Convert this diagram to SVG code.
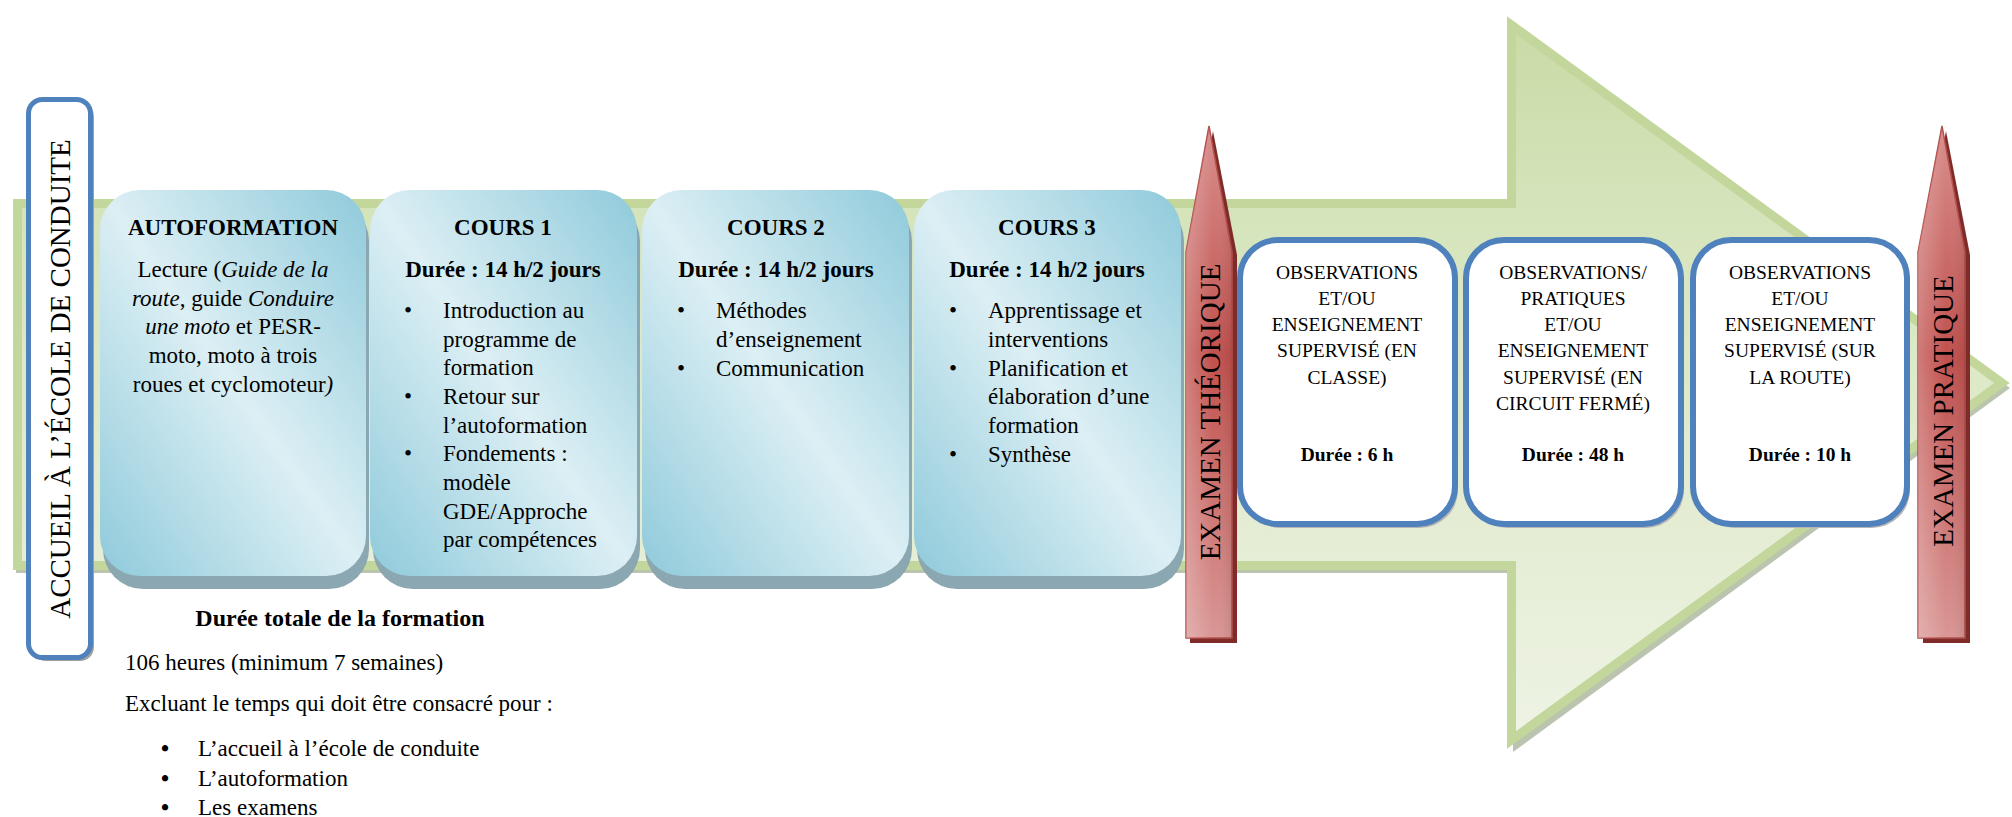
<svg xmlns="http://www.w3.org/2000/svg" width="2012" height="817" viewBox="0 0 2012 817">
<defs>
<linearGradient id="gGreen" x1="0" y1="0" x2="0" y2="1">
<stop offset="0" stop-color="#C9DBA6"/>
<stop offset="0.3" stop-color="#D7E5BE"/>
<stop offset="1" stop-color="#EEF3E4"/>
</linearGradient>
<linearGradient id="gBlue" x1="1" y1="0" x2="0" y2="1">
<stop offset="0" stop-color="#8FCADB"/>
<stop offset="0.5" stop-color="#DCEFF4"/>
<stop offset="1" stop-color="#8FCADB"/>
</linearGradient>
<linearGradient id="gRed" x1="0" y1="0" x2="0" y2="1">
<stop offset="0" stop-color="#D88E8C"/>
<stop offset="0.45" stop-color="#C0504D"/>
<stop offset="1" stop-color="#D99694"/>
</linearGradient>
<linearGradient id="gRedH" x1="0" y1="0" x2="1" y2="0">
<stop offset="0" stop-color="#FFFFFF" stop-opacity="0.25"/>
<stop offset="0.6" stop-color="#FFFFFF" stop-opacity="0"/>
<stop offset="1" stop-color="#000000" stop-opacity="0.08"/>
</linearGradient>
</defs>
<style>
text{font-family:"Liberation Serif","Times New Roman",serif;fill:#000}
.t{font-size:23px}
.b{font-weight:bold}
.c{text-anchor:middle}
.o{font-size:19.5px;text-anchor:middle}
.v{font-size:29px;text-anchor:middle}
.blue{fill:url(#gBlue)}
.bsh{fill:#8BA7B1}
.wbox{fill:#FFFFFF;stroke:#4F81BD;stroke-width:6}
.wsh{fill:#B5B5B5}
.red{fill:url(#gRed);stroke:#B4504D;stroke-width:1.5}
.rsh{fill:#7E2B29}
.bul{font-size:23px;font-weight:bold}
</style>

<g id="big-arrow">
<path d="M16,206 H1513 V26 L2010,388 L1513,752 V573 H16 Z" fill="#AAB59A" opacity="0.8"/>
<path d="M17.5,203.5 H1511.5 V25 L2002,383 L1511.5,740 V565.5 H17.5 Z" fill="url(#gGreen)" stroke="#C3D69B" stroke-width="9" stroke-linejoin="miter"/>
</g>

<g id="accueil">
<rect x="32" y="103" width="62" height="558" rx="14" fill="#A0A0A0"/>
<rect x="28.5" y="99.5" width="62" height="558" rx="14" fill="#FFFFFF" stroke="#4F81BD" stroke-width="5"/>
<text class="v" transform="translate(70,379) rotate(-90)">ACCUEIL À L’ÉCOLE DE CONDUITE</text>
</g>

<g id="autoformation">
<rect class="bsh" x="103" y="201" width="266" height="388" rx="40"/>
<rect class="blue" x="100" y="190" width="266" height="386" rx="40"/>
<text class="t b c" x="233" y="235">AUTOFORMATION</text>
<text class="t c" x="233" y="277">Lecture (<tspan font-style="italic">Guide de la</tspan></text>
<text class="t c" x="233" y="306"><tspan font-style="italic">route</tspan>, guide <tspan font-style="italic">Conduire</tspan></text>
<text class="t c" x="233" y="334"><tspan font-style="italic">une moto</tspan> et PESR-</text>
<text class="t c" x="233" y="363">moto, moto à trois</text>
<text class="t c" x="233" y="392">roues et cyclomoteur<tspan font-style="italic">)</tspan></text>
</g>

<g id="cours1">
<rect class="bsh" x="373" y="201" width="267" height="388" rx="40"/>
<rect class="blue" x="370" y="190" width="267" height="386" rx="40"/>
<text class="t b c" x="503" y="235">COURS 1</text>
<text class="t b c" x="503" y="277">Durée : 14 h/2 jours</text>
<text class="t" x="404" y="318">•</text><text class="t" x="443" y="318">Introduction au</text>
<text class="t" x="443" y="347">programme de</text>
<text class="t" x="443" y="375">formation</text>
<text class="t" x="404" y="404">•</text><text class="t" x="443" y="404">Retour sur</text>
<text class="t" x="443" y="433">l’autoformation</text>
<text class="t" x="404" y="461">•</text><text class="t" x="443" y="461">Fondements :</text>
<text class="t" x="443" y="490">modèle</text>
<text class="t" x="443" y="519">GDE/Approche</text>
<text class="t" x="443" y="547">par compétences</text>
</g>

<g id="cours2">
<rect class="bsh" x="645" y="201" width="267" height="388" rx="40"/>
<rect class="blue" x="642" y="190" width="267" height="386" rx="40"/>
<text class="t b c" x="776" y="235">COURS 2</text>
<text class="t b c" x="776" y="277">Durée : 14 h/2 jours</text>
<text class="t" x="677" y="318">•</text><text class="t" x="716" y="318">Méthodes</text>
<text class="t" x="716" y="347">d’enseignement</text>
<text class="t" x="677" y="376">•</text><text class="t" x="716" y="376">Communication</text>
</g>

<g id="cours3">
<rect class="bsh" x="917" y="201" width="267" height="388" rx="40"/>
<rect class="blue" x="914" y="190" width="267" height="386" rx="40"/>
<text class="t b c" x="1047" y="235">COURS 3</text>
<text class="t b c" x="1047" y="277">Durée : 14 h/2 jours</text>
<text class="t" x="949" y="318">•</text><text class="t" x="988" y="318">Apprentissage et</text>
<text class="t" x="988" y="347">interventions</text>
<text class="t" x="949" y="376">•</text><text class="t" x="988" y="376">Planification et</text>
<text class="t" x="988" y="404">élaboration d’une</text>
<text class="t" x="988" y="433">formation</text>
<text class="t" x="949" y="462">•</text><text class="t" x="988" y="462">Synthèse</text>
</g>

<g id="examen-theorique">
<path class="rsh" d="M1213,131 L1237,255 V643 H1190 V255 Z"/>
<path class="red" d="M1209,126 L1232,252 V638 H1186 V252 Z"/>
<path d="M1209,126 L1232,252 V638 H1186 V252 Z" fill="url(#gRedH)"/>
<text class="v" transform="translate(1220,412) rotate(-90)">EXAMEN THÉORIQUE</text>
</g>

<g id="obs-classe">
<rect class="wsh" x="1243" y="244" width="215" height="284" rx="38"/>
<rect class="wbox" x="1240" y="240" width="215" height="284" rx="38"/>
<text class="o" x="1347" y="279">OBSERVATIONS</text>
<text class="o" x="1347" y="305">ET/OU</text>
<text class="o" x="1347" y="331">ENSEIGNEMENT</text>
<text class="o" x="1347" y="357">SUPERVISÉ (EN</text>
<text class="o" x="1347" y="384">CLASSE)</text>
<text class="o b" x="1347" y="461">Durée : 6 h</text>
</g>

<g id="obs-circuit">
<rect class="wsh" x="1469" y="244" width="215" height="284" rx="38"/>
<rect class="wbox" x="1466" y="240" width="215" height="284" rx="38"/>
<text class="o" x="1573" y="279">OBSERVATIONS/</text>
<text class="o" x="1573" y="305">PRATIQUES</text>
<text class="o" x="1573" y="331">ET/OU</text>
<text class="o" x="1573" y="357">ENSEIGNEMENT</text>
<text class="o" x="1573" y="384">SUPERVISÉ (EN</text>
<text class="o" x="1573" y="410">CIRCUIT FERMÉ)</text>
<text class="o b" x="1573" y="461">Durée : 48 h</text>
</g>

<g id="obs-route">
<rect class="wsh" x="1696" y="244" width="214" height="284" rx="38"/>
<rect class="wbox" x="1693" y="240" width="214" height="284" rx="38"/>
<text class="o" x="1800" y="279">OBSERVATIONS</text>
<text class="o" x="1800" y="305">ET/OU</text>
<text class="o" x="1800" y="331">ENSEIGNEMENT</text>
<text class="o" x="1800" y="357">SUPERVISÉ (SUR</text>
<text class="o" x="1800" y="384">LA ROUTE)</text>
<text class="o b" x="1800" y="461">Durée : 10 h</text>
</g>

<g id="examen-pratique">
<path class="rsh" d="M1946,131 L1970,255 V643 H1923 V255 Z"/>
<path class="red" d="M1942,126 L1965,252 V638 H1918 V252 Z"/>
<path d="M1942,126 L1965,252 V638 H1918 V252 Z" fill="url(#gRedH)"/>
<text class="v" transform="translate(1953,411) rotate(-90)">EXAMEN PRATIQUE</text>
</g>

<g id="duree-totale">
<text class="b c" x="340" y="626" font-size="24">Durée totale de la formation</text>
<text class="t" x="125" y="670">106 heures (minimum 7 semaines)</text>
<text class="t" x="125" y="711">Excluant le temps qui doit être consacré pour :</text>
<text class="bul" x="161" y="756">•</text><text class="t" x="198" y="756">L’accueil à l’école de conduite</text>
<text class="bul" x="161" y="786">•</text><text class="t" x="198" y="786">L’autoformation</text>
<text class="bul" x="161" y="815">•</text><text class="t" x="198" y="815">Les examens</text>
</g>
<g id="connectors"/>
</svg>
